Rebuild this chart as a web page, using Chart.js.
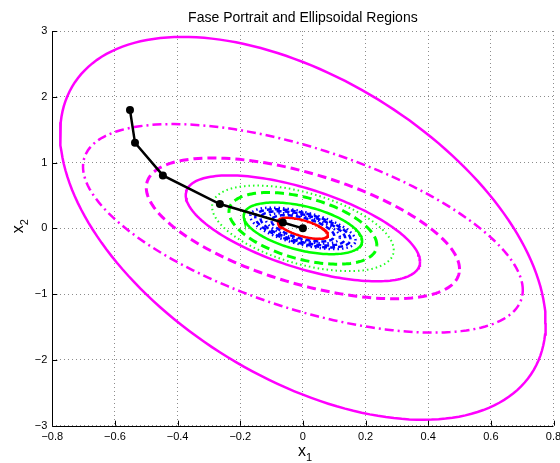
<!DOCTYPE html>
<html>
<head>
<meta charset="utf-8">
<script src="https://cdn.jsdelivr.net/npm/chart.js@4/dist/chart.umd.min.js"></script>
<style>
  html, body { margin: 0; padding: 0; background: #fff; }
  #wrap { width: 560px; height: 463px; }
</style>
</head>
<body>
<div id="wrap"><canvas id="phase" width="560" height="463"></canvas></div>
<script>
// trajectory (black line with dots)
const trajX = [-0.552, -0.536, -0.447, -0.265, -0.064, 0];
const trajY = [1.80, 1.30, 0.805, 0.37, 0.09, 0];

// ellipses, each given by: x of right-most point, y at that point, top y
const ellRight  = [0.775, 0.702, 0.50, 0.374, 0.29, 0.236, 0.189, 0.168, 0.152, 0.135, 0.118, 0.10, 0.08];
const ellRightY = [-1.44, -0.938, -0.62, -0.505, -0.33, -0.255, -0.19, -0.185, -0.168, -0.15, -0.132, -0.115, -0.10];
const ellTop    = [2.91, 1.585, 1.07, 0.805, 0.65, 0.545, 0.393, 0.315, 0.29, 0.26, 0.23, 0.20, 0.16];
const ellColor  = ['#ff00ff', '#ff00ff', '#ff00ff', '#ff00ff', '#22ff22', '#00ff00', '#00ff00',
                   '#0000ff', '#0000ff', '#0000ff', '#0000ff', '#0000ff', '#ff0000'];
const ellStyle  = ['solid', 'dashdot', 'dashed', 'solid', 'dotted', 'dashed', 'solid',
                   'dotted', 'dashed', 'dashed', 'dotted', 'dashed', 'solid'];

const xTicks = [-0.8, -0.6, -0.4, -0.2, 0, 0.2, 0.4, 0.6, 0.8];
const yTicks = [-3, -2, -1, 0, 1, 2, 3];

const FONT = "'Liberation Sans', Arial, Helvetica, sans-serif";

const dashes = {
    solid: [],
    dashed: [9, 5],
    dashdot: [9, 4, 2, 4],
    dotted: [1.5, 3]
};
const widths = { solid: 2.5, dashed: 3, dashdot: 2.5, dotted: 2 };

function ellipsePoints(i) {
    const a = ellRight[i], b = ellRightY[i];
    const c = Math.sqrt(ellTop[i] * ellTop[i] - b * b);
    const pts = [];
    for (let k = 0; k <= 180; k++) {
        const t = k * Math.PI / 90;
        pts.push({ x: a * Math.cos(t), y: b * Math.cos(t) + c * Math.sin(t) });
    }
    return pts;
}

const datasets = [{
    data: trajX.map((x, i) => ({ x, y: trajY[i] })),
    showLine: true,
    borderColor: '#000',
    backgroundColor: '#000',
    borderWidth: 2.5,
    pointRadius: 4,
    pointBorderWidth: 0,
    order: 0
}];
ellRight.forEach((_, i) => {
    const small = i >= 7 && i < 12;
    datasets.push({
        data: ellipsePoints(i),
        showLine: true,
        borderColor: ellColor[i],
        borderWidth: small ? 2.5 : widths[ellStyle[i]],
        borderDash: small && ellStyle[i] === 'dashed' ? [5, 3] : dashes[ellStyle[i]],
        pointRadius: 0,
        tension: 0,
        order: 1 + i
    });
});

const fmt = (v, d) => {
    if (Math.abs(v) < 1e-9) return '0';
    return (v < 0 ? '\u2212' : '') + Math.abs(v).toFixed(d);
};

const decor = {
    id: 'decor',
    afterDraw(chart) {
        const ctx = chart.ctx;
        const a = chart.chartArea;
        const xs = chart.scales.x, ys = chart.scales.y;
        ctx.save();
        // axis lines and inward tick marks
        ctx.strokeStyle = '#000';
        ctx.lineWidth = 1;
        ctx.beginPath();
        ctx.moveTo(Math.round(a.left) + 0.5, a.top);
        ctx.lineTo(Math.round(a.left) + 0.5, a.bottom);
        ctx.moveTo(a.left, Math.round(a.bottom) + 0.5);
        ctx.lineTo(a.right, Math.round(a.bottom) + 0.5);
        xTicks.forEach(v => {
            const px = Math.round(xs.getPixelForValue(v)) + 0.5;
            ctx.moveTo(px, a.bottom);
            ctx.lineTo(px, a.bottom - 5);
        });
        yTicks.forEach(v => {
            const py = Math.round(ys.getPixelForValue(v)) + 0.5;
            ctx.moveTo(a.left, py);
            ctx.lineTo(a.left + 5, py);
        });
        ctx.stroke();

        ctx.fillStyle = '#000';
        // title
        ctx.font = '14px ' + FONT;
        ctx.textAlign = 'center';
        ctx.textBaseline = 'alphabetic';
        ctx.fillText('Fase Portrait and Ellipsoidal Regions', (a.left + a.right) / 2, 22);

        // x1 label
        const cx = (a.left + a.right) / 2;
        ctx.font = '16px ' + FONT;
        ctx.textAlign = 'right';
        ctx.fillText('x', cx + 3, 456);
        ctx.font = '11px ' + FONT;
        ctx.textAlign = 'left';
        ctx.fillText('1', cx + 3, 461);

        // x2 label (rotated)
        ctx.translate(23, (a.top + a.bottom) / 2);
        ctx.rotate(-Math.PI / 2);
        ctx.font = '16px ' + FONT;
        ctx.textAlign = 'right';
        ctx.fillText('x', 3, 0);
        ctx.font = '11px ' + FONT;
        ctx.textAlign = 'left';
        ctx.fillText('2', 3, 5);
        ctx.restore();
    }
};

const gridOpts = { color: '#8c8c8c', lineWidth: 1, drawTicks: false };
const borderOpts = { display: false, dash: [1, 3] };

new Chart(document.getElementById('phase'), {
    type: 'scatter',
    data: { datasets },
    options: {
        responsive: false,
        animation: false,
        devicePixelRatio: 1,
        layout: { padding: { top: 31, right: 6.5, left: 0, bottom: 0 } },
        plugins: {
            legend: { display: false },
            title: { display: false },
            tooltip: { enabled: false }
        },
        scales: {
            x: {
                type: 'linear',
                min: -0.8,
                max: 0.8,
                afterBuildTicks: s => { s.ticks = xTicks.map(v => ({ value: v })); },
                afterFit: s => { s.height = 37.3; s.paddingLeft = 0; s.paddingRight = 0; },
                ticks: {
                    callback: v => fmt(v, 1),
                    font: { family: FONT, size: 11 },
                    color: '#000',
                    padding: 5,
                    maxRotation: 0,
                    autoSkip: false
                },
                grid: gridOpts,
                border: borderOpts
            },
            y: {
                type: 'linear',
                min: -3,
                max: 3,
                afterBuildTicks: s => { s.ticks = yTicks.map(v => ({ value: v })); },
                afterFit: s => { s.width = 52.3; },
                ticks: {
                    callback: v => fmt(v, 0),
                    font: { family: FONT, size: 11 },
                    color: '#000',
                    padding: 5,
                    autoSkip: false
                },
                grid: gridOpts,
                border: borderOpts
            }
        }
    },
    plugins: [decor]
});
</script>
</body>
</html>
